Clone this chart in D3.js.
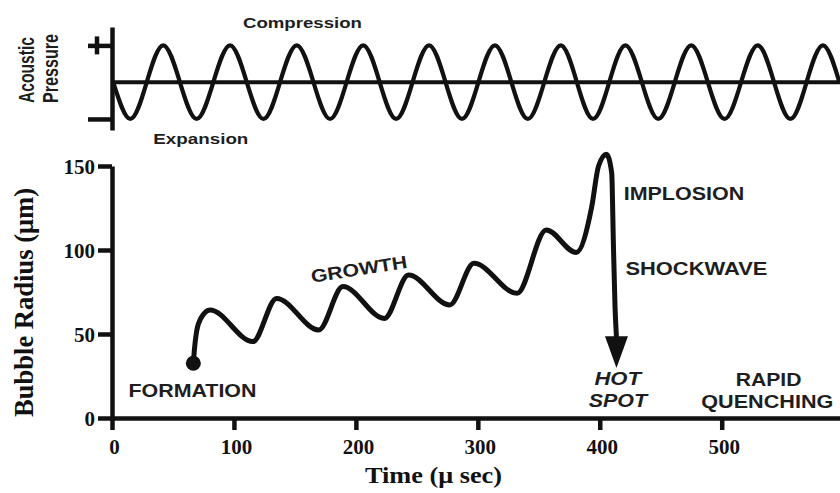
<!DOCTYPE html>
<html>
<head>
<meta charset="utf-8">
<script src="https://cdn.jsdelivr.net/npm/d3@7"></script>
<style>
  html, body { margin: 0; padding: 0; background: #fff; }
  svg { display: block; }
</style>
</head>
<body>
<svg id="chart" width="840" height="493"></svg>
<script>
// ---------- data ----------
const timeTicks = [0, 100, 200, 300, 400, 500];
const radiusTicks = [0, 50, 100, 150];
const pressureTicks = [-1, 1];

// bubble radius (µm) vs time (µs)
const bubbleTime   = [66.7, 67.5, 69.5, 73, 80.4, 115.5, 135, 169.5, 189.4, 223.4, 243.2, 277, 296.8, 332.1, 356.1, 380.7, 393.4, 399, 405.5, 409.8, 411.1, 412.5, 413.7];
const bubbleRadius = [32.6, 40, 52, 59.5, 64.3, 45.5, 71.2, 52.4, 78.2, 59.3, 85.1, 67.3, 92.1, 74.2, 111.9, 98.5, 125.8, 150, 157, 145.8, 106, 66.3, 48];
const arrowTipTime = 413.7, arrowTipRadius = 29.8;

// acoustic pressure (relative) vs time (µs): zero crossings, troughs and peaks
const pressureTime  = [1, 15, 28.5, 42, 55.7, 69.4, 83.1, 96.8, 110.5, 124.2, 137.8, 151.5, 165.2, 178.8, 192.4, 206, 219.5, 233, 246.5, 260, 273.5, 287, 300.5, 314, 327.5, 341, 354.5, 368, 381.2, 394.5, 407.8, 421, 434.5, 448, 461.5, 475, 488.6, 502.3, 515.9, 529.5, 542.9, 556.3, 569.6, 583, 596.5];
const pressureValue = [0, -1, 0, 1, 0, -1, 0, 1, 0, -1, 0, 1, 0, -1, 0, 1, 0, -1, 0, 1, 0, -1, 0, 1, 0, -1, 0, 1, 0, -1, 0, 1, 0, -1, 0, 1, 0, -1, 0, 1, 0, -1, 0, 1, 0];

// ---------- setup ----------
const svg = d3.select("#chart");
const SANS = "'Liberation Sans', Arial, sans-serif";
const SERIF = "'Liberation Serif', 'Times New Roman', serif";
const INK = "#111";
const TXT = "#1e1e1e";

const x  = d3.scaleLinear().domain([0, 597]).range([112, 840]);
const y  = d3.scaleLinear().domain([0, 150]).range([418, 166]);
const yP = d3.scaleLinear().domain([-1.3, 1.5]).range([130, 27]);

svg.append("rect").attr("width", 840).attr("height", 493).attr("fill", "#fff");

// ---------- top panel: acoustic pressure ----------
const gTop = svg.append("g");
gTop.append("g")
  .attr("transform", `translate(${x(0)},0)`)
  .call(d3.axisLeft(yP).tickValues(pressureTicks).tickSize(24).tickSizeOuter(0).tickFormat(() => ""))
  .call(g => g.selectAll("path, line").attr("stroke", INK).attr("stroke-width", 4.5));
// the vertical bar of the "+"
gTop.append("line")
  .attr("x1", x(0) - 15).attr("x2", x(0) - 15)
  .attr("y1", yP(1) - 9).attr("y2", yP(1) + 9)
  .attr("stroke", INK).attr("stroke-width", 4.5);
// zero line
gTop.append("line")
  .attr("x1", x(0)).attr("x2", x(597))
  .attr("y1", yP(0)).attr("y2", yP(0))
  .attr("stroke", INK).attr("stroke-width", 4);

const pressurePts = pressureTime.map((t, i) => [t, pressureValue[i]]);
gTop.append("path")
  .datum(pressurePts)
  .attr("fill", "none").attr("stroke", INK).attr("stroke-width", 4.2)
  .attr("d", d3.line().x(d => x(d[0])).y(d => yP(d[1])).curve(d3.curveNatural));

function label(g, text, opts) {
  const t = g.append("text")
    .attr("transform", opts.transform)
    .attr("text-anchor", opts.anchor || "start")
    .attr("font-family", opts.family || SANS)
    .attr("font-weight", opts.weight || "bold")
    .attr("font-style", opts.style || "normal")
    .attr("font-size", opts.size)
    .attr("fill", opts.fill || TXT)
    .text(text);
  if (opts.len) t.attr("textLength", opts.len).attr("lengthAdjust", "spacingAndGlyphs");
  return t;
}

label(gTop, "Compression", { transform: `translate(${x(107.4)},28)`, size: 15.5, len: 119 });
label(gTop, "Expansion",   { transform: `translate(${x(33.9)},144)`, size: 15, len: 95 });
label(gTop, "Acoustic",    { transform: `translate(33.5,103) rotate(-90)`, size: 22.5, len: 66 });
label(gTop, "Pressure",    { transform: `translate(57.5,103) rotate(-90)`, size: 22.5, len: 69 });

// ---------- bottom panel: bubble radius ----------
const gB = svg.append("g");

gB.append("g")
  .attr("transform", `translate(0,${y(0)})`)
  .call(d3.axisBottom(x).tickValues(timeTicks).tickSize(12).tickSizeOuter(0).tickPadding(9))
  .call(g => g.selectAll("path, line").attr("stroke", INK).attr("stroke-width", 4.5))
  .call(g => g.selectAll("text")
      .attr("font-family", SERIF).attr("font-weight", "bold").attr("font-size", 21)
      .attr("fill", INK).attr("dx", 2));

gB.append("g")
  .attr("transform", `translate(${x(0)},0)`)
  .call(d3.axisLeft(y).tickValues(radiusTicks).tickSize(14).tickSizeOuter(0).tickPadding(3))
  .call(g => g.selectAll("path, line").attr("stroke", INK).attr("stroke-width", 4.5))
  .call(g => g.selectAll("text")
      .attr("font-family", SERIF).attr("font-weight", "bold").attr("font-size", 21)
      .attr("fill", INK).attr("dy", "0.36em"));

const bubblePts = bubbleTime.map((t, i) => [t, bubbleRadius[i]]);
gB.append("path")
  .datum(bubblePts)
  .attr("fill", "none").attr("stroke", INK).attr("stroke-width", 5)
  .attr("stroke-linejoin", "round")
  .attr("d", d3.line().x(d => x(d[0])).y(d => y(d[1])).curve(d3.curveMonotoneX));

// formation dot
gB.append("circle")
  .attr("cx", x(bubbleTime[0])).attr("cy", y(bubbleRadius[0])).attr("r", 7.5)
  .attr("fill", INK);

// arrow head
const last = bubblePts[bubblePts.length - 1];
const ax = x(arrowTipTime);
gB.append("path")
  .attr("d", `M${ax - 11.5},${y(last[1]) - 1} L${ax + 11.5},${y(last[1]) - 1} L${ax},${y(arrowTipRadius)} Z`)
  .attr("fill", INK);

// annotations
label(gB, "FORMATION", { transform: `translate(${x(66)},${y(12.7)})`, anchor: "middle", size: 18, len: 128 });
label(gB, "GROWTH",    { transform: `translate(${x(164)},${y(80.5)}) rotate(-8.8)`, size: 18, len: 97 });
label(gB, "IMPLOSION", { transform: `translate(${x(419.6)},${y(129.8)})`, size: 18, len: 120.5 });
label(gB, "SHOCKWAVE", { transform: `translate(${x(421)},${y(85.1)})`, size: 18, len: 142 });
label(gB, "HOT",       { transform: `translate(${x(414.7)},${y(19.6)})`, anchor: "middle", size: 18, style: "italic", weight: "bold", len: 46.6 });
label(gB, "SPOT",      { transform: `translate(${x(414.8)},${y(6.7)})`, anchor: "middle", size: 18, style: "italic", weight: "bold", len: 58.4 });
label(gB, "RAPID",     { transform: `translate(${x(538.4)},${y(19)})`, anchor: "middle", size: 18, len: 65.7 });
label(gB, "QUENCHING", { transform: `translate(${x(537.4)},${y(6)})`, anchor: "middle", size: 18, len: 132 });

// axis titles
label(svg, "Bubble Radius (\u03bcm)", { transform: `translate(33,417) rotate(-90)`, family: SERIF, size: 28, len: 229, fill: INK });
label(svg, "Time (\u03bc sec)", { transform: `translate(365,483)`, family: SERIF, size: 22.5, len: 137, fill: INK });
</script>
</body>
</html>
